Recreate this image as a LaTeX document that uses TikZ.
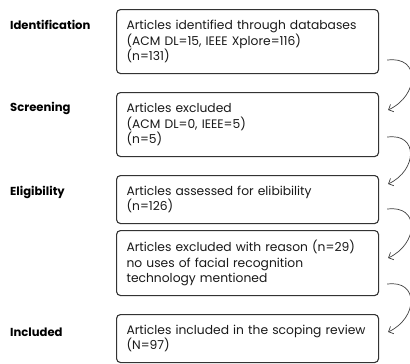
\documentclass[tikz,border=0pt]{standalone}
\usepackage{fontspec}
\setmainfont{Poppins}
\usetikzlibrary{calc,arrows.meta}
\newcommand{\boxfont}{\fontsize{12.3}{15.2}\selectfont\hyphenpenalty=10000\relax\exhyphenpenalty=10000\relax}
\begin{document}
\begin{tikzpicture}[x=1pt,y=-1pt,
  box/.style={draw=black!80, line width=1.1pt, rounded corners=4pt, minimum width=262pt,
    inner xsep=10pt, inner ysep=0pt, text width=242pt, align=left, anchor=north west,
    font=\boxfont, text=black!90},
  phase/.style={anchor=west, inner sep=0pt, font=\fontsize{11.6}{15}\selectfont\bfseries},
  flow/.style={draw=black!75, line width=0.7pt, -{Straight Barb[length=4pt,width=8pt]}}]
\useasboundingbox (0,0) rectangle (410,364);
\node[box, minimum height=64pt] (b1) at (116,9) {Articles identified through databases\\(ACM DL=15, IEEE Xplore=116)\\(n=131)};
\node[box, minimum height=64pt] (b2) at (116,92) {Articles excluded\\(ACM DL=0, IEEE=5)\\(n=5)};
\node[box, minimum height=48pt] (b3) at (116,175) {Articles assessed for elibibility\\(n=126)};
\node[box, minimum height=65pt] (b4) at (116,230) {Articles excluded with reason (n=29)\\no uses of facial recognition\\technology mentioned};
\node[box, minimum height=48pt] (b5) at (116,314) {Articles included in the scoping review\\(N=97)};
\node[phase] (p1) at (10,25) {Identification};
\node[phase] (p2) at (10,108) {Screening};
\node[phase] (p3) at (10,192) {Eligibility};
\node[phase] (p4) at (10,332) {Included};
\coordinate (s1) at ($(b1.south east)+(8,-14)$);
\coordinate (e1) at ($(b2.north east)+(9,18)$);
\coordinate (s2) at ($(b2.south east)+(8,-20)$);
\coordinate (e2) at ($(b3.north east)+(9,9)$);
\coordinate (s3) at ($(b3.south east)+(8,-15)$);
\coordinate (e3) at ($(b4.north east)+(9,28)$);
\coordinate (s4) at ($(b4.south east)+(8,-12)$);
\coordinate (e4) at ($(b5.north east)+(9,18)$);
\foreach \i in {1,2,3,4}{
  \draw[flow] (s\i) to[out=8, in=25, looseness=1.75] (e\i);
}
\end{tikzpicture}
\end{document}
